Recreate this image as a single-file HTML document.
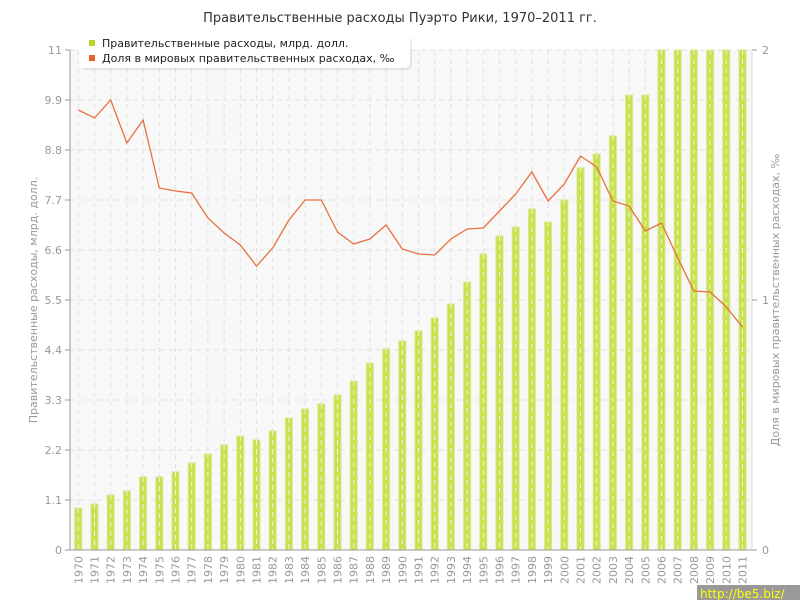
<!DOCTYPE html>
<html><head><meta charset="utf-8"><style>
body{margin:0;background:#fff;}
svg{display:block;font-family:"DejaVu Sans","Liberation Sans",sans-serif;}
</style></head><body>
<svg width="800" height="600" xmlns="http://www.w3.org/2000/svg">
<rect x="70" y="50" width="682" height="500" fill="#f8f8f8"/>
<g stroke="#e2e2e2" stroke-dasharray="5,4" stroke-width="1">
<line x1="70" x2="752" y1="50" y2="50"/><line x1="70" x2="752" y1="100" y2="100"/><line x1="70" x2="752" y1="150" y2="150"/><line x1="70" x2="752" y1="200" y2="200"/><line x1="70" x2="752" y1="250" y2="250"/><line x1="70" x2="752" y1="300" y2="300"/><line x1="70" x2="752" y1="350" y2="350"/><line x1="70" x2="752" y1="400" y2="400"/><line x1="70" x2="752" y1="450" y2="450"/><line x1="70" x2="752" y1="500" y2="500"/>
</g>
<g id="vg" stroke="#e2e2e2" stroke-dasharray="5,4">
<path d="M78.3 50V550M94.5 50V550M110.7 50V550M126.9 50V550M143.1 50V550M159.3 50V550M175.5 50V550M191.7 50V550M207.9 50V550M224.1 50V550M240.3 50V550M256.5 50V550M272.7 50V550M288.9 50V550M305.1 50V550M321.3 50V550M337.5 50V550M353.7 50V550M369.9 50V550M386.1 50V550M402.3 50V550M418.5 50V550M434.7 50V550M450.9 50V550M467.1 50V550M483.3 50V550M499.5 50V550M515.7 50V550M531.9 50V550M548.1 50V550M564.3 50V550M580.5 50V550M596.7 50V550M612.9 50V550M629.1 50V550M645.3 50V550M661.5 50V550M677.7 50V550M693.9 50V550M710.1 50V550M726.3 50V550M742.5 50V550"/>
</g>
<g fill="#c9e04f" stroke="#d8e98a" stroke-width="1">
<rect x="74.8" y="508" width="7" height="42"/><rect x="91" y="504" width="7" height="46"/><rect x="107.2" y="495" width="7" height="55"/><rect x="123.4" y="491" width="7" height="59"/><rect x="139.6" y="477" width="7" height="73"/><rect x="155.8" y="477" width="7" height="73"/><rect x="172" y="472" width="7" height="78"/><rect x="188.2" y="463" width="7" height="87"/><rect x="204.4" y="454" width="7" height="96"/><rect x="220.6" y="445" width="7" height="105"/><rect x="236.8" y="436" width="7" height="114"/><rect x="253" y="440" width="7" height="110"/><rect x="269.2" y="431" width="7" height="119"/><rect x="285.4" y="418" width="7" height="132"/><rect x="301.6" y="409" width="7" height="141"/><rect x="317.8" y="404" width="7" height="146"/><rect x="334" y="395" width="7" height="155"/><rect x="350.2" y="381" width="7" height="169"/><rect x="366.4" y="363" width="7" height="187"/><rect x="382.6" y="349" width="7" height="201"/><rect x="398.8" y="341" width="7" height="209"/><rect x="415" y="331" width="7" height="219"/><rect x="431.2" y="318" width="7" height="232"/><rect x="447.4" y="304" width="7" height="246"/><rect x="463.6" y="282" width="7" height="268"/><rect x="479.8" y="254" width="7" height="296"/><rect x="496" y="236" width="7" height="314"/><rect x="512.2" y="227" width="7" height="323"/><rect x="528.4" y="209" width="7" height="341"/><rect x="544.6" y="222" width="7" height="328"/><rect x="560.8" y="200" width="7" height="350"/><rect x="577" y="168" width="7" height="382"/><rect x="593.2" y="154" width="7" height="396"/><rect x="609.4" y="136" width="7" height="414"/><rect x="625.6" y="95" width="7" height="455"/><rect x="641.8" y="95" width="7" height="455"/><rect x="658" y="50" width="7" height="500"/><rect x="674.2" y="50" width="7" height="500"/><rect x="690.4" y="50" width="7" height="500"/><rect x="706.6" y="50" width="7" height="500"/><rect x="722.8" y="50" width="7" height="500"/><rect x="739" y="50" width="7" height="500"/>
</g>
<g stroke="#f0f6d8" stroke-dasharray="5,4">
<path d="M78.3 508V550M94.5 504V550M110.7 495V550M126.9 491V550M143.1 477V550M159.3 477V550M175.5 472V550M191.7 463V550M207.9 454V550M224.1 445V550M240.3 436V550M256.5 440V550M272.7 431V550M288.9 418V550M305.1 409V550M321.3 404V550M337.5 395V550M353.7 381V550M369.9 363V550M386.1 349V550M402.3 341V550M418.5 331V550M434.7 318V550M450.9 304V550M467.1 282V550M483.3 254V550M499.5 236V550M515.7 227V550M531.9 209V550M548.1 222V550M564.3 200V550M580.5 168V550M596.7 154V550M612.9 136V550M629.1 95V550M645.3 95V550M661.5 50V550M677.7 50V550M693.9 50V550M710.1 50V550M726.3 50V550M742.5 50V550"/>
</g>
<polyline fill="none" stroke="#e8703f" stroke-width="1.3" points="78.3,110 94.5,118 110.7,100 126.9,143 143.1,120 159.3,188 175.5,191 191.7,193 207.9,218 224.1,233 240.3,245 256.5,266 272.7,248 288.9,220 305.1,200 321.3,200 337.5,232 353.7,244 369.9,239 386.1,225 402.3,249 418.5,254 434.7,255 450.9,239 467.1,229 483.3,228 499.5,211 515.7,194 531.9,172 548.1,201 564.3,184 580.5,156 596.7,167 612.9,201 629.1,206 645.3,231 661.5,223 677.7,258 693.9,291 710.1,292 726.3,307 742.5,327"/>
<g stroke="#999" stroke-width="1">
<line x1="70" y1="50" x2="70" y2="550"/><line x1="70" y1="550" x2="752" y2="550"/>
<line x1="752" y1="50" x2="752" y2="550" stroke="#ddd"/>
<path d="M65 50H70M65 100H70M65 150H70M65 200H70M65 250H70M65 300H70M65 350H70M65 400H70M65 450H70M65 500H70M65 550H70"/>
<path d="M752 50H757M752 300H757M752 550H757"/>
</g>
<g fill="#999" font-size="11" text-anchor="end">
<text x="62" y="54">11</text><text x="62" y="104">9.9</text><text x="62" y="154">8.8</text><text x="62" y="204">7.7</text><text x="62" y="254">6.6</text><text x="62" y="304">5.5</text><text x="62" y="354">4.4</text><text x="62" y="404">3.3</text><text x="62" y="454">2.2</text><text x="62" y="504">1.1</text><text x="62" y="554">0</text>
</g>
<g fill="#999" font-size="11"><text x="762" y="54">2</text><text x="762" y="304">1</text><text x="762" y="554">0</text></g>
<g fill="#999" font-size="11" text-anchor="end">
<text transform="translate(82.3,556) rotate(-90)">1970</text><text transform="translate(98.5,556) rotate(-90)">1971</text><text transform="translate(114.7,556) rotate(-90)">1972</text><text transform="translate(130.9,556) rotate(-90)">1973</text><text transform="translate(147.1,556) rotate(-90)">1974</text><text transform="translate(163.3,556) rotate(-90)">1975</text><text transform="translate(179.5,556) rotate(-90)">1976</text><text transform="translate(195.7,556) rotate(-90)">1977</text><text transform="translate(211.9,556) rotate(-90)">1978</text><text transform="translate(228.1,556) rotate(-90)">1979</text><text transform="translate(244.3,556) rotate(-90)">1980</text><text transform="translate(260.5,556) rotate(-90)">1981</text><text transform="translate(276.7,556) rotate(-90)">1982</text><text transform="translate(292.9,556) rotate(-90)">1983</text><text transform="translate(309.1,556) rotate(-90)">1984</text><text transform="translate(325.3,556) rotate(-90)">1985</text><text transform="translate(341.5,556) rotate(-90)">1986</text><text transform="translate(357.7,556) rotate(-90)">1987</text><text transform="translate(373.9,556) rotate(-90)">1988</text><text transform="translate(390.1,556) rotate(-90)">1989</text><text transform="translate(406.3,556) rotate(-90)">1990</text><text transform="translate(422.5,556) rotate(-90)">1991</text><text transform="translate(438.7,556) rotate(-90)">1992</text><text transform="translate(454.9,556) rotate(-90)">1993</text><text transform="translate(471.1,556) rotate(-90)">1994</text><text transform="translate(487.3,556) rotate(-90)">1995</text><text transform="translate(503.5,556) rotate(-90)">1996</text><text transform="translate(519.7,556) rotate(-90)">1997</text><text transform="translate(535.9,556) rotate(-90)">1998</text><text transform="translate(552.1,556) rotate(-90)">1999</text><text transform="translate(568.3,556) rotate(-90)">2000</text><text transform="translate(584.5,556) rotate(-90)">2001</text><text transform="translate(600.7,556) rotate(-90)">2002</text><text transform="translate(616.9,556) rotate(-90)">2003</text><text transform="translate(633.1,556) rotate(-90)">2004</text><text transform="translate(649.3,556) rotate(-90)">2005</text><text transform="translate(665.5,556) rotate(-90)">2006</text><text transform="translate(681.7,556) rotate(-90)">2007</text><text transform="translate(697.9,556) rotate(-90)">2008</text><text transform="translate(714.1,556) rotate(-90)">2009</text><text transform="translate(730.3,556) rotate(-90)">2010</text><text transform="translate(746.5,556) rotate(-90)">2011</text>
</g>
<text x="400" y="22" font-size="13" fill="#333" text-anchor="middle">Правительственные расходы Пуэрто Рики, 1970–2011 гг.</text>
<text transform="translate(37,300) rotate(-90)" font-size="11" fill="#999" text-anchor="middle">Правительственные расходы, млрд. долл.</text>
<text transform="translate(779,300) rotate(-90)" font-size="11" fill="#999" text-anchor="middle">Доля в мировых правительственных расходах, ‰</text>
<rect x="81" y="37" width="331" height="33" rx="5" fill="#000" opacity="0.08"/>
<rect x="79" y="35" width="331" height="33" rx="5" fill="#fff"/>
<rect x="89" y="40" width="6" height="6" fill="#b8d52a"/>
<text x="102" y="47" font-size="11" fill="#222">Правительственные расходы, млрд. долл.</text>
<rect x="89" y="55" width="6" height="6" fill="#e5622a"/>
<text x="102" y="62" font-size="11" fill="#222">Доля в мировых правительственных расходах, ‰</text>
<rect x="697" y="585" width="103" height="15" fill="#999"/>
<text x="700" y="598" font-size="12" fill="#ff0">http://be5.biz/</text>
</svg>
</body></html>
